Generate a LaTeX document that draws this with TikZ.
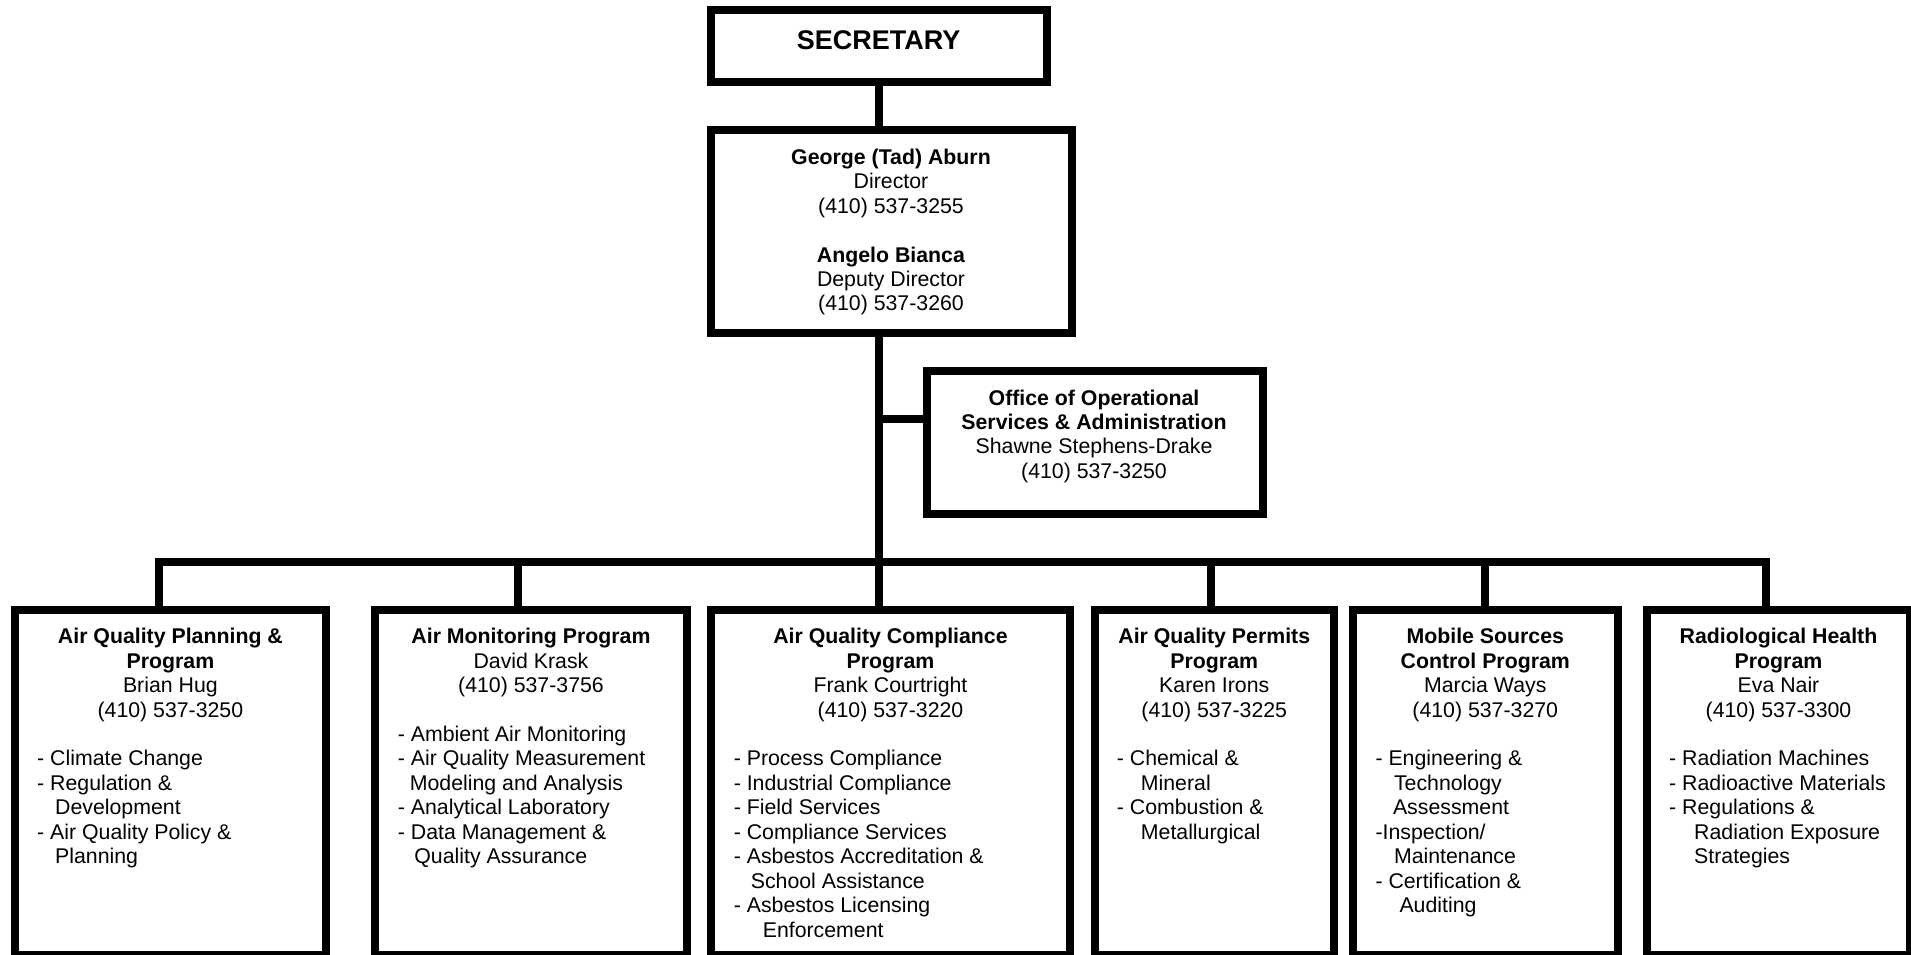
\documentclass[tikz,border=0pt]{standalone}
\usepackage{fontspec}
\setmainfont{Liberation Sans}
\begin{document}
\begin{tikzpicture}[x=1pt,y=-1pt,
  box/.style={draw=black, line width=8pt, fill=white, inner sep=0pt, outer sep=0pt},
  conn/.style={draw=black, line width=8pt, line join=miter},
  hdr/.style={align=center, inner sep=0pt, anchor=north, font=\fontsize{21.3}{24.45}\selectfont},
  lst/.style={align=left, inner sep=0pt, anchor=north west, font=\fontsize{21.3}{24.45}\selectfont}]
\useasboundingbox (0,0) rectangle (1911,955);
% boxes
\node[box, minimum width=336pt, minimum height=72.5pt] (sec) at (878.5,46) {};
\node[box, minimum width=361.5pt, minimum height=202.5pt] (dir) at (891.25,231.25) {};
\node[box, minimum width=336pt, minimum height=143pt] (off) at (1095,442.5) {};
\node[box, minimum width=311.8pt, minimum height=345pt] (b1) at (170.4,782.5) {};
\node[box, minimum width=312pt, minimum height=345pt] (b2) at (531,782.5) {};
\node[box, minimum width=359pt, minimum height=345pt] (b3) at (890.5,782.5) {};
\node[box, minimum width=238.5pt, minimum height=345pt] (b4) at (1214.25,782.5) {};
\node[box, minimum width=264.5pt, minimum height=345pt] (b5) at (1485.25,782.5) {};
\node[box, minimum width=263pt, minimum height=345pt] (b6) at (1778.5,782.5) {};
% junction coordinates
\coordinate (trunk) at (879,562);
\coordinate (offj) at (879,419);
\coordinate (d1) at (159,562);
\coordinate (d2) at (518,562);
\coordinate (d4) at (1211,562);
\coordinate (d5) at (1485,562);
\coordinate (d6) at (1766,562);
% connectors
\draw[conn] (sec.south -| trunk) -- (trunk |- dir.north);
\draw[conn] (trunk |- dir.south) -- (trunk) -- (trunk |- b3.north);
\draw[conn] (offj) -- (offj -| off.west);
\draw[conn] (d1 |- b1.north) -- (d1) -- (d6) -- (d6 |- b6.north);
\draw[conn] (d2) -- (d2 |- b2.north);
\draw[conn] (d4) -- (d4 |- b4.north);
\draw[conn] (d5) -- (d5 |- b5.north);
% texts
\node[inner sep=0pt, anchor=base, font=\bfseries\fontsize{27}{30}\selectfont] (sect) at (878.5,50) {SECRETARY};
\node[hdr] (dirt) at (891,146.9) {\strut\textbf{George (Tad) Aburn}\\Director\\(410) 537-3255\\\mbox{}\\\textbf{Angelo Bianca}\\Deputy Director\\(410) 537-3260};
\node[hdr] (offt) at (1094,387.7) {\strut\textbf{Office of Operational}\\\textbf{Services \& Administration}\\Shawne Stephens-Drake\\(410) 537-3250};
\node[hdr] (h1) at (170.4,626.4) {\strut\textbf{Air Quality Planning \&}\\\textbf{Program}\\Brian Hug\\(410) 537-3250};
\node[hdr] (h2) at (531,626.4) {\strut\textbf{Air Monitoring Program}\\David Krask\\(410) 537-3756};
\node[hdr] (h3) at (890.5,626.4) {\strut\textbf{Air Quality Compliance}\\\textbf{Program}\\Frank Courtright\\(410) 537-3220};
\node[hdr] (h4) at (1214.25,626.4) {\strut\textbf{Air Quality Permits}\\\textbf{Program}\\Karen Irons\\(410) 537-3225};
\node[hdr] (h5) at (1485.25,626.4) {\strut\textbf{Mobile Sources}\\\textbf{Control Program}\\Marcia Ways\\(410) 537-3270};
\node[hdr] (h6) at (1778.5,626.4) {\strut\textbf{Radiological Health}\\\textbf{Program}\\Eva Nair\\(410) 537-3300};
\node[lst] (l1) at (37,748.6) {\strut- Climate Change\\- Regulation \&\\\hspace*{18pt}Development\\- Air Quality Policy \&\\\hspace*{18pt}Planning};
\node[lst] (l2) at (397.7,724.2) {\strut- Ambient Air Monitoring\\- Air Quality Measurement\\\hspace*{12pt}Modeling and Analysis\\- Analytical Laboratory\\- Data Management \&\\\hspace*{16.5pt}Quality Assurance};
\node[lst] (l3) at (733.6,748.6) {\strut- Process Compliance\\- Industrial Compliance\\- Field Services\\- Compliance Services\\- Asbestos Accreditation \&\\\hspace*{17pt}School Assistance\\- Asbestos Licensing\\\hspace*{29pt}Enforcement};
\node[lst] (l4) at (1116.7,748.6) {\strut- Chemical \&\\\hspace*{24pt}Mineral\\- Combustion \&\\\hspace*{24pt}Metallurgical};
\node[lst] (l5) at (1375.3,748.6) {\strut- Engineering \&\\\hspace*{18.5pt}Technology\\\hspace*{17.5pt}Assessment\\-Inspection/\\\hspace*{18.5pt}Maintenance\\- Certification \&\\\hspace*{24pt}Auditing};
\node[lst] (l6) at (1669,748.6) {\strut- Radiation Machines\\- Radioactive Materials\\- Regulations \&\\\hspace*{25pt}Radiation Exposure\\\hspace*{25pt}Strategies};
\end{tikzpicture}
\end{document}
